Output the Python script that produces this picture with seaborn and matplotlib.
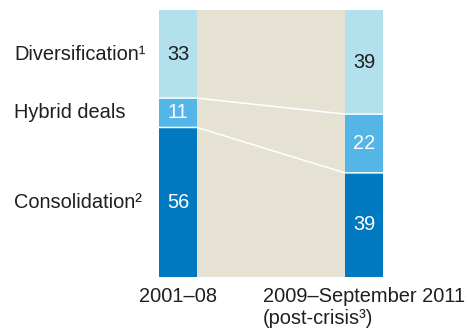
import matplotlib
matplotlib.use("Agg")
import matplotlib.pyplot as plt
import seaborn as sns
import pandas as pd
import numpy as np

periods = ["2001–08", "2009–September 2011\n(post-crisis³)"]
consolidation = [56, 39]
hybrid = [11, 22]
diversification = [33, 39]
segment_labels = ["Consolidation²", "Hybrid deals", "Diversification¹"]

sns.set_style("white")
plt.rcParams['font.family'] = ['Liberation Sans', 'DejaVu Sans']

c_dark = "#0079C1"
c_mid = "#53B6E7"
c_light = "#B2E0EC"
c_bg = "#E5E2D3"
txt = "#1f1f1f"

fig = plt.figure(figsize=(4.68, 3.30), dpi=100)
ax = fig.add_axes([159/468, 1-277/330, (383-159)/468, (277-10)/330])
ax.set_facecolor(c_bg)

w = 38/186
df = pd.DataFrame({
    "period": periods,
    "cons": consolidation,
    "hyb": hybrid,
    "div": diversification,
})
df["c1"] = df["cons"]
df["c2"] = df["cons"] + df["hyb"]
df["c3"] = df["c2"] + df["div"]

for col, color in [("c3", c_light), ("c2", c_mid), ("c1", c_dark)]:
    sns.barplot(data=df, x="period", y=col, color=color, saturation=1,
                width=w, linewidth=0, order=periods, ax=ax)

# separators and connector lines
for col in ["c1", "c2"]:
    y0, y1 = df[col].iloc[0], df[col].iloc[1]
    ax.plot([-w/2, w/2, 1-w/2, 1+w/2], [y0, y0, y1, y1], color="white", lw=1.1,
            solid_capstyle="butt", zorder=5)

fs = 14.4
for i in range(2):
    segs = [(0, df["c1"].iloc[i], df["cons"].iloc[i], "white"),
            (df["c1"].iloc[i], df["c2"].iloc[i], df["hyb"].iloc[i], "white"),
            (df["c2"].iloc[i], df["c3"].iloc[i], df["div"].iloc[i], txt)]
    for lo, hi, v, col in segs:
        ax.text(i, (lo+hi)/2, str(v), ha="center", va="center", fontsize=fs, color=col, zorder=6)

# row labels on the left, centered on left bar segments
mids = [df["c1"].iloc[0]/2, (df["c1"].iloc[0]+df["c2"].iloc[0])/2, (df["c2"].iloc[0]+df["c3"].iloc[0])/2]
for lab, m in zip(segment_labels, mids):
    ax.annotate(lab, xy=(14, m), xycoords=("figure pixels", "data"), ha="left", va="center",
                fontsize=fs, color=txt, annotation_clip=False)

ax.set_xlim(-w/2, 1+w/2)
ax.set_ylim(0, 100)
ax.set_yticks([])
ax.set_xlabel("")
ax.set_ylabel("")
ax.set_xticks([0, 1])
ax.set_xticklabels(periods, fontsize=fs, color=txt)
ax.tick_params(axis="x", length=0, pad=7)
for t in ax.get_xticklabels():
    t.set_multialignment("left")
    t.set_linespacing(1.2)
for s in ax.spines.values():
    s.set_visible(False)

fig.savefig("out.png", dpi=100)
